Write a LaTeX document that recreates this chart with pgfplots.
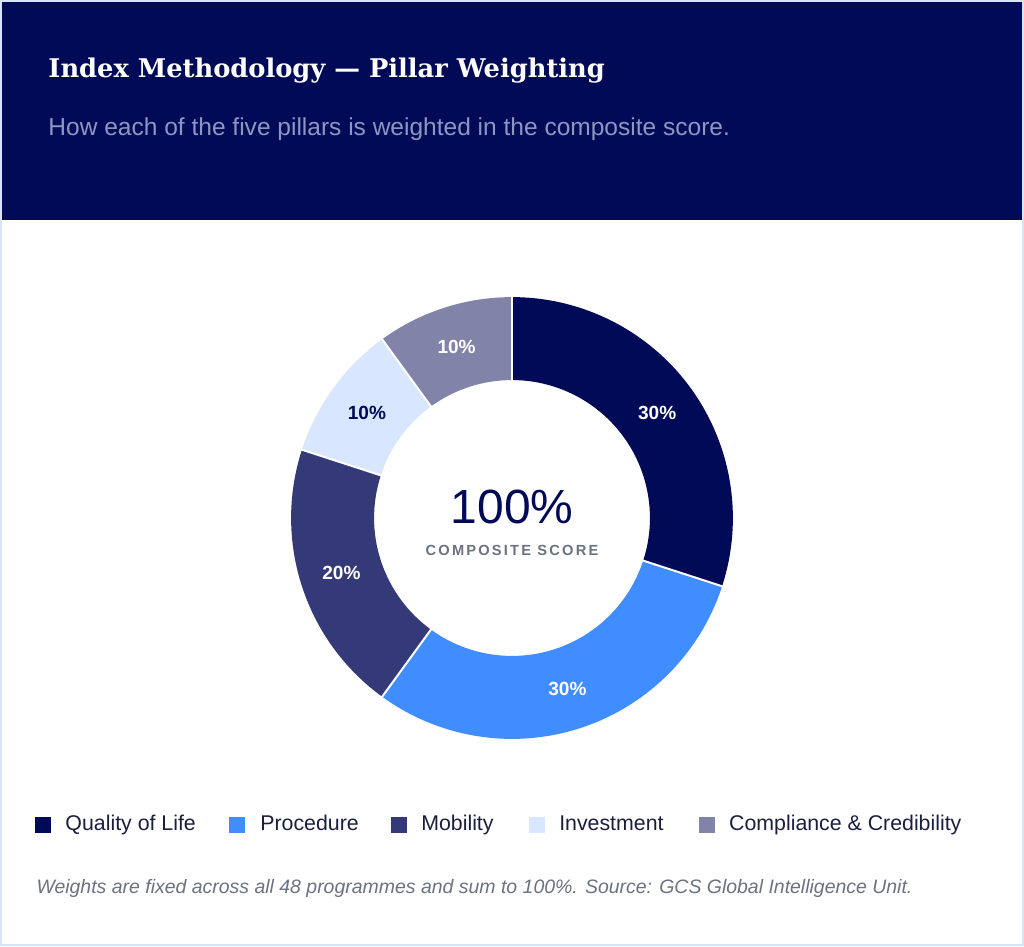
\documentclass[border=0pt]{standalone}
\usepackage{pgfplots}
\pgfplotsset{compat=1.18}
\usepackage{pgfplotstable}
\usepackage{fontspec}
\setmainfont{Liberation Sans}
\newfontfamily\titlefont{DejaVu Serif}

\definecolor{navy}{HTML}{000A57}
\definecolor{qol}{HTML}{000A57}
\definecolor{proc}{HTML}{408DFF}
\definecolor{mob}{HTML}{343A78}
\definecolor{inv}{HTML}{D9E6FF}
\definecolor{comp}{HTML}{8283A9}
\definecolor{subtitle}{HTML}{8E96C2}
\definecolor{legtext}{HTML}{1A1F3D}
\definecolor{note}{HTML}{6B7280}
\definecolor{frame}{HTML}{D6E4F5}

% pillar weights (%), drawn clockwise from 12 o'clock
\pgfplotstableread[col sep=comma]{
name,weight,colour,labelcolour,squarex,textx
Quality of Life,30,qol,white,35,65
Procedure,30,proc,white,229,260
Mobility,20,mob,white,391,421
Investment,10,inv,navy,529,559
Compliance \& Credibility,10,comp,white,699,729
}\weights

\begin{document}
\begin{tikzpicture}
\begin{axis}[
    x=0.75pt, y=0.75pt,
    xmin=0, xmax=1024, ymin=0, ymax=946,
    y dir=reverse,
    hide axis, clip=false,
]
\pgfplotsextra{
  % card
  \fill[white] (axis cs:0,0) rectangle (axis cs:1024,946);
  \fill[navy] (axis cs:1,1) rectangle (axis cs:1022,220);
  \draw[frame, line width=1.5pt] (axis cs:0.75,0.75) rectangle (axis cs:1023.25,945.25);
  \node[anchor=base west, inner sep=0pt, text=white, font=\titlefont\bfseries\fontsize{19.3}{22}\selectfont]
    at (axis cs:48,77) {Index Methodology — Pillar Weighting};
  \node[anchor=base west, inner sep=0pt, text=subtitle, font=\fontsize{18.4}{22}\selectfont]
    at (axis cs:48,135) {How each of the five pillars is weighted in the composite score.};
  % donut
  \gdef\cum{0}
  \foreach \i in {0,...,4}{
    \pgfplotstablegetelem{\i}{weight}\of\weights\let\w\pgfplotsretval
    \pgfplotstablegetelem{\i}{colour}\of\weights\let\c\pgfplotsretval
    \pgfplotstablegetelem{\i}{labelcolour}\of\weights\let\lc\pgfplotsretval
    \pgfplotstablegetelem{\i}{name}\of\weights\let\nm\pgfplotsretval
    \pgfplotstablegetelem{\i}{squarex}\of\weights\let\sx\pgfplotsretval
    \pgfplotstablegetelem{\i}{textx}\of\weights\let\tx\pgfplotsretval
    \pgfmathsetmacro\s{90-3.6*\cum}
    \pgfmathsetmacro\e{\s-3.6*\w}
    \pgfmathsetmacro\m{(\s+\e)/2}
    \fill[\c] (axis cs:512,518) ++(\s:165.75pt)
      arc[start angle=\s, end angle=\e, radius=165.75pt]
      -- ++(\e:-62.25pt)
      arc[start angle=\e, end angle=\s, radius=103.5pt] -- cycle;
    \path (axis cs:512,518) ++(\m:134.6pt) node[text=\lc, font=\bfseries\fontsize{14.3}{16}\selectfont] {\w\%};
    % legend entry
    \fill[\c] (axis cs:\sx,817) rectangle (axis cs:\sx+16,833);
    \node[anchor=base west, inner sep=0pt, text=legtext, font=\fontsize{16}{19}\selectfont]
      at (axis cs:\tx,831) {\nm};
    \pgfmathsetmacro\nc{\cum+\w}\xdef\cum{\nc}
  }
  % separators
  \gdef\cum{0}
  \foreach \i in {0,...,4}{
    \pgfplotstablegetelem{\i}{weight}\of\weights\let\w\pgfplotsretval
    \pgfmathsetmacro\s{90-3.6*\cum}
    \draw[white, line width=1.5pt] (axis cs:512,518) ++(\s:102pt) -- ++(\s:65pt);
    \pgfmathsetmacro\nc{\cum+\w}\xdef\cum{\nc}
  }
  % centre
  \node[anchor=base, inner sep=0pt, text=navy, font=\fontsize{36}{40}\selectfont]
    at (axis cs:512,523) {100\%};
  \node[anchor=base, inner sep=0pt, text=note, font=\bfseries\addfontfeatures{LetterSpace=15}\fontsize{11}{13}\selectfont]
    at (axis cs:512,556) {COMPOSITE SCORE};
  % note
  \node[anchor=base west, inner sep=0pt, text=note, font=\itshape\fontsize{14.6}{17}\selectfont]
    at (axis cs:36,894) {Weights are fixed across all 48 programmes and sum to 100\%. Source: GCS Global Intelligence Unit.};
}
\end{axis}
\end{tikzpicture}
\end{document}
